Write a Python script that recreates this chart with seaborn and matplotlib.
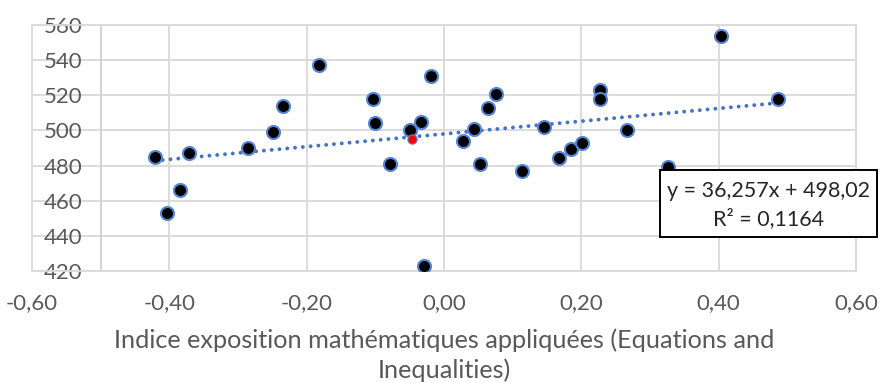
import numpy as np
import pandas as pd
import matplotlib
matplotlib.use("Agg")
import matplotlib.pyplot as plt
import seaborn as sns
from matplotlib.patches import Rectangle

# Exposure index (x) and mean score (y) per country
exposure = [-0.421, -0.403, -0.385, -0.372, -0.285, -0.249, -0.234, -0.182,
            -0.103, -0.100, -0.079, -0.050, -0.033, -0.019, -0.029, 0.028,
            0.044, 0.053, 0.064, 0.076, 0.113, 0.145, 0.168, 0.185, 0.201,
            0.227, 0.227, 0.267, 0.326, 0.404, 0.486]
score = [485, 453, 466, 487, 490, 499, 514, 537,
         518, 504, 481, 500, 505, 531, 423, 494,
         501, 481, 513, 521, 477, 502, 484.5, 489.5, 493,
         523, 518, 500, 479, 554, 518]

# Highlighted point
highlight_x = [-0.046]
highlight_y = [495.3]

# Linear trend
slope = 36.257
intercept = 498.02
r_squared = 0.1164

x_ticks = [-0.6, -0.4, -0.2, 0.0, 0.2, 0.4, 0.6]
y_ticks = [420, 440, 460, 480, 500, 520, 540, 560]
x_label = "Indice exposition mathématiques appliquées (Equations and\nInequalities)"


def fr(v, nd=2):
    s = f"{v:.{nd}f}".replace(".", ",")
    return "0,00" if s == "-0,00" else s


sns.set_theme(style="white")
plt.rcParams["font.family"] = ["Lato", "DejaVu Sans"]

W, H = 880, 383
fig = plt.figure(figsize=(W / 100, H / 100), dpi=100)
ax = fig.add_axes([32 / W, (H - 271) / H, 824 / W, 246 / H])

grid_c = "#d9d9d9"
text_c = "#595959"
blue = "#4472C4"

df = pd.DataFrame({"x": exposure, "y": score})
sns.scatterplot(data=df, x="x", y="y", ax=ax, s=88, color="black",
                edgecolor="#5585d6", linewidth=1.5, zorder=4)

hl = pd.DataFrame({"x": highlight_x, "y": highlight_y})
sns.scatterplot(data=hl, x="x", y="y", ax=ax, s=45, color="#ff0000",
                edgecolor="#5585d6", linewidth=0.8, zorder=5)

xs = np.array([min(exposure), max(exposure)])
ax.plot(xs, slope * xs + intercept, color=blue, lw=2.8,
        linestyle=(0, (0.01, 2.0)), dash_capstyle="round", zorder=3)

ax.set_xlim(-0.6, 0.6)
ax.set_ylim(420, 560)
ax.set_xticks(x_ticks)
ax.set_yticks(y_ticks)
ax.set_xticklabels([fr(v) for v in x_ticks])
ax.set_yticklabels([str(v) for v in y_ticks])

ax.grid(True, color=grid_c, lw=1.3)
for gl in ax.get_xgridlines() + ax.get_ygridlines():
    gl.set_clip_on(False)
ax.set_axisbelow(True)

for side in ["top", "right", "bottom"]:
    ax.spines[side].set_color(grid_c)
    ax.spines[side].set_linewidth(1.3)
ax.spines["left"].set_position(("data", -0.5))
ax.spines["left"].set_color("#cfcfcf")
ax.spines["left"].set_linewidth(1.3)

ax.tick_params(axis="both", length=0, labelsize=16, labelcolor=text_c)
ax.tick_params(axis="y", pad=13)
ax.tick_params(axis="x", pad=16)

ax.set_xlabel(x_label, fontsize=18.2, color=text_c, linespacing=1.32, labelpad=11)
ax.set_ylabel("")

# Equation box
bx0, by0, bx1, by1 = 660, 170, 877, 237
fig.patches.append(Rectangle((bx0 / W, 1 - by1 / H), (bx1 - bx0) / W, (by1 - by0) / H,
                             transform=fig.transFigure, facecolor="white",
                             edgecolor="black", lw=1.4, zorder=10))
cx = (bx0 + bx1) / 2 / W
fig.text(cx, 1 - 191 / H, f"y = {fr(slope, 3)}x + {fr(intercept, 2)}", ha="center",
         va="center", fontsize=15.5, color="#262626", zorder=11)
fig.text(cx, 1 - 219 / H, f"R² = {fr(r_squared, 4)}", ha="center",
         va="center", fontsize=15.5, color="#262626", zorder=11)

fig.savefig("out.png", dpi=100)
